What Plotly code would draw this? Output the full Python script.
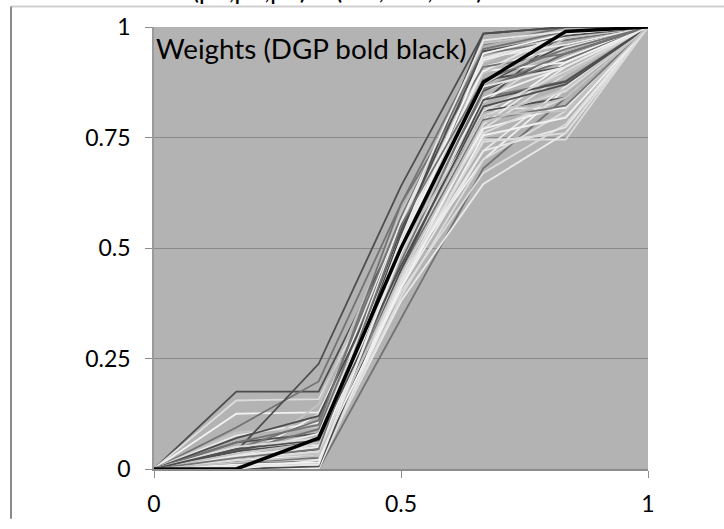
import plotly.graph_objects as go

# Grid positions of the weights (0, 1/6, ..., 1)
x_pos = [0, 1 / 6, 2 / 6, 3 / 6, 4 / 6, 5 / 6, 1]

# Estimated cumulative weights per replication (interior points only)
rep_weights = [
    [0.175, 0.175, 0.55, 0.83, 0.99],
    [0.155, 0.158, 0.52, 0.90, 0.97],
    [0.125, 0.128, 0.47, 0.79, 0.92],
    [0.094, 0.198, 0.60, 0.96, 1.00],
    [0.083, 0.094, 0.49, 0.87, 0.95],
    [0.076, 0.105, 0.56, 0.93, 0.98],
    [0.040, 0.238, 0.64, 0.985, 1.00],
    [0.030, 0.040, 0.42, 0.745, 0.745],
    [0.020, 0.060, 0.44, 0.70, 0.86],
    [0.000, 0.000, 0.34, 0.68, 0.84],
    [0.010, 0.146, 0.58, 0.92, 0.99],
    [0.050, 0.054, 0.47, 0.816, 0.816],
    [0.000, 0.030, 0.46, 0.81, 0.84],
    [0.033, 0.069, 0.40, 0.67, 0.78],
    [0.020, 0.124, 0.53, 0.855, 0.93],
    [0.013, 0.020, 0.48, 0.94, 0.97],
    [0.025, 0.050, 0.52, 0.963, 0.99],
    [0.000, 0.012, 0.38, 0.645, 0.76],
    [0.060, 0.080, 0.50, 0.88, 0.91],
    [0.005, 0.030, 0.45, 0.77, 0.893],
    [0.010, 0.024, 0.50, 0.91, 0.953],
    [0.040, 0.090, 0.55, 0.84, 0.878],
    [0.015, 0.039, 0.43, 0.75, 0.80],
    [0.000, 0.005, 0.41, 0.72, 0.866],
    [0.020, 0.045, 0.49, 0.855, 0.94],
    [0.008, 0.015, 0.46, 0.80, 0.855],
    [0.030, 0.070, 0.53, 0.925, 0.976],
    [0.045, 0.110, 0.57, 0.95, 0.99],
    [0.012, 0.020, 0.47, 0.795, 0.86],
    [0.000, 0.000, 0.42, 0.78, 0.91],
    [0.070, 0.120, 0.51, 0.87, 0.96],
    [0.010, 0.060, 0.48, 0.83, 0.95],
    [0.005, 0.010, 0.44, 0.77, 0.82],
    [0.020, 0.030, 0.50, 0.86, 0.925],
    [0.000, 0.015, 0.46, 0.815, 0.893],
    [0.035, 0.080, 0.52, 0.90, 0.99],
    [0.015, 0.030, 0.53, 0.985, 1.00],
    [0.030, 0.050, 0.47, 0.76, 0.84],
    [0.005, 0.020, 0.49, 0.84, 0.91],
    [0.060, 0.100, 0.60, 0.91, 0.94],
    [0.020, 0.035, 0.48, 0.87, 0.975],
    [0.010, 0.020, 0.43, 0.72, 0.773],
    [0.040, 0.060, 0.54, 0.945, 0.98],
    [0.000, 0.010, 0.39, 0.70, 0.81],
    [0.025, 0.040, 0.51, 0.90, 0.92],
    [0.015, 0.025, 0.45, 0.79, 0.822],
    [0.008, 0.012, 0.50, 0.895, 0.985],
    [0.030, 0.050, 0.56, 0.97, 0.99],
    [0.000, 0.006, 0.45, 0.835, 0.876],
    [0.050, 0.070, 0.49, 0.81, 0.90],
    [0.020, 0.030, 0.41, 0.755, 0.795],
    [0.012, 0.018, 0.47, 0.86, 0.94],
    [0.035, 0.060, 0.50, 0.80, 0.81],
    [0.000, 0.020, 0.52, 0.93, 0.96],
    [0.045, 0.065, 0.46, 0.82, 0.87],
    [0.020, 0.040, 0.43, 0.74, 0.76],
    [0.010, 0.015, 0.49, 0.94, 0.985],
    [0.025, 0.045, 0.55, 0.88, 0.95],
    [0.015, 0.030, 0.44, 0.785, 0.84],
    [0.005, 0.010, 0.50, 0.865, 0.91],
]

# True data-generating weights
dgp_weights = [0.0, 0.07, 0.50, 0.875, 0.99]

x_ticks = [0, 0.5, 1]
x_tick_text = ["0", "0.5", "1"]
y_ticks = [0, 0.25, 0.5, 0.75, 1]
y_tick_text = ["0", "0.25", "0.5", "0.75", "1"]

title_text = "(ρ1,ρ2,ρ3) = (0.5, 0.5, 0.5)"
box_text = "Weights (DGP bold black)"

# Grey shades cycled over the replications
shades = ["#4d4d4d", "#dcdcdc", "#f2f2f2", "#737373", "#c4c4c4", "#e9e9e9"]

FONT = "Lato, 'Open Sans', sans-serif"

fig = go.Figure()
for i, w in enumerate(rep_weights):
    fig.add_trace(go.Scatter(
        x=x_pos, y=[0] + w + [1], mode="lines",
        line=dict(color=shades[i % len(shades)], width=1.8),
        hoverinfo="skip", showlegend=False,
    ))
fig.add_trace(go.Scatter(
    x=x_pos, y=[0] + dgp_weights + [1], mode="lines",
    line=dict(color="#000000", width=3.5),
    hoverinfo="skip", showlegend=False,
))

W, H = 724, 529
L, R, T, B = 154, 76, 26, 51
pw, ph = W - L - R, H - T - B

def px_x(p):
    return (p - L) / pw

def px_y(p):
    return (H - B - p) / ph

fig.update_layout(
    width=W, height=H,
    margin=dict(l=L, r=R, t=T, b=B, pad=0),
    paper_bgcolor="#ffffff",
    plot_bgcolor="#b3b3b3",
    font=dict(family=FONT, color="#000000", size=23),
    xaxis=dict(
        range=[0, 1], tickvals=x_ticks, ticktext=x_tick_text,
        showgrid=False, zeroline=False,
        showline=True, linecolor="#8c8c8c", linewidth=1.5,
        ticks="outside", ticklen=7, tickcolor="#8c8c8c", tickwidth=1,
        tickfont=dict(size=23), ticklabelstandoff=7,
    ),
    yaxis=dict(
        range=[0, 1], tickvals=y_ticks, ticktext=y_tick_text,
        showgrid=True, gridcolor="#8a8a8a", gridwidth=1,
        zeroline=False,
        showline=True, linecolor="#9a9a9a", linewidth=1.5,
        ticks="outside", ticklen=7, tickcolor="#8c8c8c", tickwidth=1,
        tickfont=dict(size=23), ticklabelstandoff=10,
    ),
    shapes=[
        dict(type="line", xref="paper", yref="paper",
             x0=px_x(11), x1=px_x(724), y0=px_y(5), y1=px_y(5),
             line=dict(color="#d0d0d0", width=2)),
        dict(type="line", xref="paper", yref="paper",
             x0=px_x(11), x1=px_x(11), y0=px_y(5), y1=px_y(529),
             line=dict(color="#8a8a8a", width=2)),
    ],
    annotations=[
        dict(text=box_text, xref="paper", yref="paper",
             x=0.0, y=px_y(29), xanchor="left", yanchor="top",
             showarrow=False, font=dict(size=27.8, family=FONT)),
        dict(text=title_text, xref="paper", yref="paper",
             x=px_x(190), y=px_y(6), xanchor="left", yanchor="bottom",
             showarrow=False, font=dict(size=26, family=FONT)),
    ],
)

fig.write_html("out.html")
